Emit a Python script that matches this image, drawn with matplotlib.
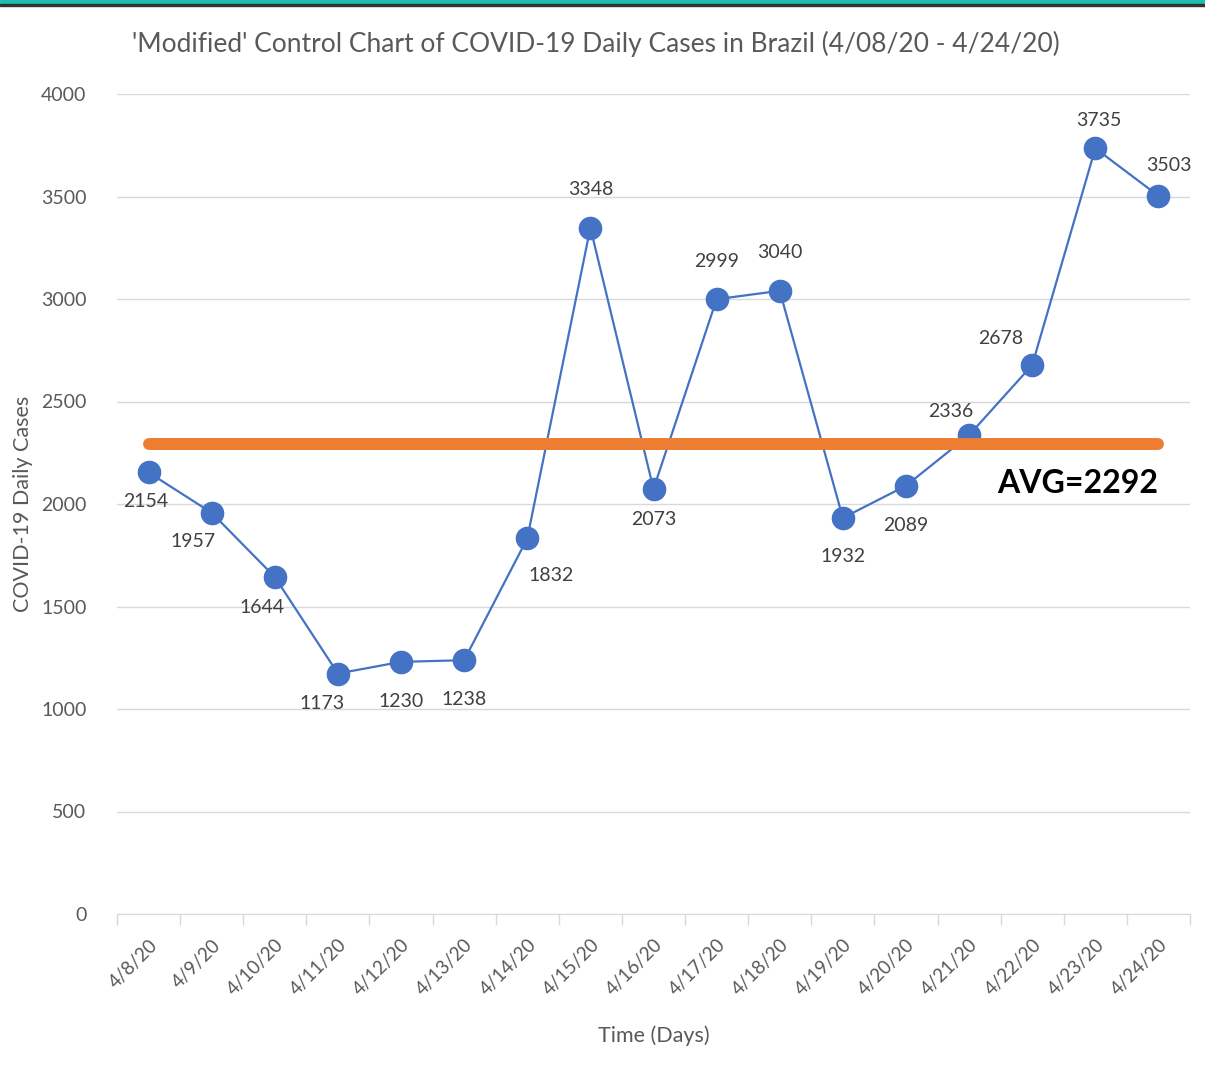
import numpy as np
import matplotlib.pyplot as plt
from matplotlib.patches import Rectangle

# Daily cases, Brazil
dates = ["4/8/20", "4/9/20", "4/10/20", "4/11/20", "4/12/20", "4/13/20", "4/14/20",
         "4/15/20", "4/16/20", "4/17/20", "4/18/20", "4/19/20", "4/20/20", "4/21/20",
         "4/22/20", "4/23/20", "4/24/20"]
cases = [2154, 1957, 1644, 1173, 1230, 1238, 1832, 3348, 2073, 2999, 3040,
         1932, 2089, 2336, 2678, 3735, 3503]
avg = 2292

# label offsets in pixels (dx, dy), excel-style placement
offsets = [(-3, -29), (-19, -29), (-13, -31), (-16, -30), (0, -40), (0, -39),
           (24, -37), (0, 38), (0, -30), (0, 38), (0, 38), (0, -39), (0, -40),
           (-18, 24), (-32, 27), (3, 28), (10, 30)]

plt.rcParams['font.family'] = ['Lato', 'DejaVu Sans']
grey = '#595959'

fig = plt.figure(figsize=(12.05, 10.76), dpi=100)
ax = fig.add_axes([117/1205, 1 - 914/1076, 1073/1205, 820/1076])

x = np.arange(len(dates))
ax.plot(x, cases, color='#4472C4', lw=1.6, marker='o', ms=16, zorder=3)
ax.plot([x[0], x[-1]], [avg, avg], color='#ED7D31', lw=8.6,
        solid_capstyle='round', zorder=4)

for xi, v, (dx, dy) in zip(x, cases, offsets):
    ax.annotate(str(v), (xi, v), xytext=(dx, dy), textcoords='offset pixels',
                ha='center', va='center', fontsize=14, color='#404040', zorder=5)

ax.text(x[-1], avg - 190, 'AVG=2292', ha='right', va='center',
        fontsize=23, fontweight='bold', color='black', zorder=5)

ax.set_xlim(-0.5, len(dates) - 0.5)
ax.set_ylim(0, 4000)
ax.set_yticks(range(0, 4001, 500))
ax.yaxis.grid(True, color='#D9D9D9', lw=1)
ax.set_axisbelow(True)

ax.set_xticks(np.arange(-0.5, len(dates)), minor=False)
ax.set_xticklabels([])
ax.set_xticks(x, minor=True)
ax.set_xticklabels(dates, minor=True, rotation=45, ha='right',
                   rotation_mode='anchor', fontsize=13.5, color=grey)
ax.tick_params(axis='x', which='major', length=8, color='#D9D9D9', width=1)
ax.tick_params(axis='x', which='minor', length=0, pad=16)
ax.tick_params(axis='y', length=0, pad=22, labelsize=14, labelcolor=grey)

for s in ['top', 'right', 'left']:
    ax.spines[s].set_visible(False)
ax.spines['bottom'].set_color('#D9D9D9')

ax.set_ylabel('COVID-19 Daily Cases', fontsize=15.5, color=grey, labelpad=6)
ax.set_xlabel('Time (Days)', fontsize=15.5, color=grey, labelpad=19)

fig.text(596/1205, 1 - 44/1076, "'Modified' Control Chart of COVID-19 Daily Cases in Brazil (4/08/20 - 4/24/20)",
         ha='center', va='center', fontsize=19, color=grey)

# teal frame at the top
fig.patches.append(Rectangle((0, 1 - 4/1076), 1, 4/1076, transform=fig.transFigure,
                             color='#1FBFB0', zorder=10))
fig.patches.append(Rectangle((0, 1 - 6/1076), 1, 2/1076, transform=fig.transFigure,
                             color='#333333', zorder=10))

fig.savefig('out.png', dpi=100)
